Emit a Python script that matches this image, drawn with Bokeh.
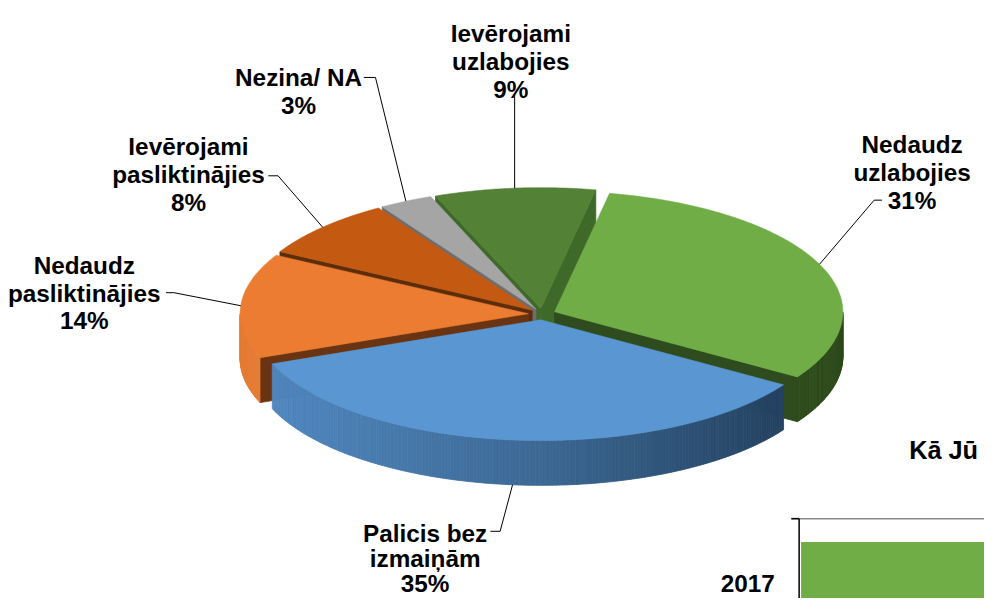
import numpy as np
from bokeh.plotting import figure
from bokeh.models import Range1d
from bokeh.core.properties import value
from bokeh.embed import file_html
from bokeh.resources import INLINE

# ---------------- data ----------------
categories = ["Nedaudz uzlabojies", "Palicis bez izmaiņām", "Nedaudz pasliktinājies",
              "Ievērojami pasliktinājies", "Nezina/ NA", "Ievērojami uzlabojies"]
values = [31, 35, 14, 8, 3, 9]
label_lines = [["Nedaudz", "uzlabojies"], ["Palicis bez", "izmaiņām"],
               ["Nedaudz", "pasliktinājies"], ["Ievērojami", "pasliktinājies"],
               ["Nezina/ NA"], ["Ievērojami", "uzlabojies"]]

# fragment of the neighbouring bar chart (cropped in the reference)
bar_title = "Kā Jū"
bar_years = ["2017"]
bar_first_segment = [45]

# ---------------- styles ----------------
top_colors = ["#70AD47", "#5A96D1", "#EB7C31", "#C45A12", "#A5A5A5", "#538135"]
face_colors = ["#2F4C1E", "#2A4A6C", "#6A3412", "#5C2C0B", "#6E6E6E", "#3F6929"]
wall_stops = [("#3A5E22", "#34551F", "#2D4A1B"),
              ("#5189C2", "#3C6893", "#1F3A57"),
              ("#E47B34", "#D06C28", "#B85E22"),
              ("#B04F10", "#A04810", "#8A3E0E"),
              ("#8C8C8C", "#7C7C7C", "#6C6C6C"),
              ("#46702C", "#3F6628", "#365A22")]

# layout (reference-pixel data space: x right, y down)
W, H = 984, 598
REF_H = 614.0
REF_W = W * REF_H / H
CX, CY = 556.0, 322.0
RX, RY = 296.0, 124.0
DEPTH = 46.0
EXPLODE = 14.0
START = 11.0
label_pos = [(936, 148), (436, 547), (86, 272), (193, 150), (306, 79), (524, 34)]
line_gaps = [28.5, 26.0, 28.5, 28.5, 28.5, 28.5]
leader_text = [[(905, 205), (897, 205)], [(503, 545), (513, 545)], [(170, 300), (178, 300)],
               [(275, 180), (285, 180)], [(373, 79), (385, 79)], [None]]
FONT = value("Liberation Sans")
FS = "%.1fpx" % (25 * H / REF_H)
FS_TITLE = "%.1fpx" % (26 * H / REF_H)


def hex2rgb(h):
    return np.array([int(h[i:i + 2], 16) for i in (1, 3, 5)], dtype=float)


def grad(stops, t):
    t = min(max(t, 0.0), 1.0)
    c0, c1, c2 = [hex2rgb(s) for s in stops]
    if t < 0.5:
        c = c0 + (c1 - c0) * (t / 0.5)
    else:
        c = c1 + (c2 - c1) * ((t - 0.5) / 0.5)
    return "#%02x%02x%02x" % tuple(int(round(v)) for v in c)


def edge(theta, off, dz=0.0):
    t = np.radians(theta)
    return (CX + off[0] + RX * np.sin(t), CY + off[1] - RY * np.cos(t) + dz)


total = float(sum(values))
bounds = [START]
for v in values:
    bounds.append(bounds[-1] + 360.0 * v / total)

slices = []
for i, v in enumerate(values):
    a0, a1 = bounds[i], bounds[i + 1]
    mid = np.radians((a0 + a1) / 2)
    off = (EXPLODE * np.sin(mid), -EXPLODE * RY / RX * np.cos(mid))
    slices.append(dict(i=i, a0=a0, a1=a1, mid=(a0 + a1) / 2, off=off))

order = sorted(slices, key=lambda s: s["off"][1])

p = figure(width=W, height=H, x_range=Range1d(0, REF_W), y_range=Range1d(REF_H, 0),
           output_backend="svg", toolbar_location=None, min_border=0)
p.axis.visible = False
p.grid.visible = False
p.outline_line_color = None
p.background_fill_color = "white"
p.border_fill_color = "white"

side_xs, side_ys, side_c = [], [], []
for s in order:
    i, a0, a1, off = s["i"], s["a0"], s["a1"], s["off"]
    apex = (CX + off[0], CY + off[1])
    # radial faces
    for a, is_start in ((a0, True), (a1, False)):
        sa = np.sin(np.radians(a))
        visible = (sa < 0) if is_start else (sa > 0)
        if visible:
            ex, ey = edge(a, off)
            side_xs.append([apex[0], ex, ex, apex[0]])
            side_ys.append([apex[1], ey, ey + DEPTH, apex[1] + DEPTH])
            side_c.append(face_colors[i])
    # outer wall (front half only)
    if a0 >= 360:
        w0, w1 = max(a0 - 360, 90.0), min(a1 - 360, 270.0)
    else:
        w0, w1 = max(a0, 90.0), min(a1, 270.0)
    if w1 > w0:
        ts = np.linspace(w0, w1, int((w1 - w0) * 1.5) + 2)
        for k in range(len(ts) - 1):
            x0, y0 = edge(ts[k], off)
            x1, y1 = edge(ts[k + 1], off)
            side_xs.append([x0, x1, x1, x0])
            side_ys.append([y0, y1, y1 + DEPTH, y0 + DEPTH])
            tt = ((x0 + x1) / 2 - (CX - RX)) / (2 * RX)
            side_c.append(grad(wall_stops[i], tt))

p.patches(xs=side_xs, ys=side_ys, fill_color=side_c, line_color=side_c, line_width=0.8)

top_xs, top_ys, top_c = [], [], []
for s in order:
    i, a0, a1, off = s["i"], s["a0"], s["a1"], s["off"]
    apex = (CX + off[0], CY + off[1])
    ts = np.linspace(a0, a1, int((a1 - a0) * 2) + 2)
    xs = [apex[0]] + [edge(t, off)[0] for t in ts]
    ys = [apex[1]] + [edge(t, off)[1] for t in ts]
    top_xs.append(xs)
    top_ys.append(ys)
    top_c.append(top_colors[i])
p.patches(xs=top_xs, ys=top_ys, fill_color=top_c, line_color=top_c, line_width=0.5)

# labels and leader lines
lx, ly, lt = [], [], []
lead_xs, lead_ys = [], []
for s in slices:
    i = s["i"]
    cx, by = label_pos[i]
    lines = label_lines[i] + ["%d%%" % values[i]]
    for k, t in enumerate(lines):
        lx.append(cx)
        ly.append(by + k * line_gaps[i])
        lt.append(t)
    if i == 1:
        ax, ay = edge(s["mid"], s["off"], DEPTH)
    else:
        ax, ay = edge(s["mid"], s["off"])
    pts = leader_text[i]
    if pts[0] is None:
        xs = [ax, ax]
        ys = [label_pos[i][1] + 2 * line_gaps[i] + 6, ay]
    else:
        xs = [pts[0][0], pts[1][0], ax]
        ys = [pts[0][1], pts[1][1], ay]
    lead_xs.append(xs)
    lead_ys.append(ys)

p.multi_line(xs=lead_xs, ys=lead_ys, line_color="black", line_width=1)
p.text(x=lx, y=ly, text=lt, text_align="center", text_baseline="alphabetic",
       text_font=FONT, text_font_style="bold", text_font_size=FS, text_color="black")

# ---- fragment of the neighbouring bar chart ----
AX_X, AX_TOP, PX_PER_PCT = 820.0, 532.0, 6.0
BAR_TOP, BAR_H = 556.0, 112.0
for j, yr in enumerate(bar_years):
    top = BAR_TOP + j * BAR_H * 1.4
    p.quad(left=AX_X + 2, right=AX_X + bar_first_segment[j] * PX_PER_PCT,
           top=top, bottom=top + BAR_H, fill_color="#70AD47", line_color=None)
    p.text(x=[AX_X - 25], y=[599], text=[yr], text_align="right",
           text_baseline="alphabetic", text_font=FONT, text_font_style="bold",
           text_font_size=FS, text_color="black")
p.segment(x0=[AX_X - 8], y0=[AX_TOP], x1=[1100], y1=[AX_TOP], line_color="#8A8A8A", line_width=1.5)
p.segment(x0=[AX_X - 8], y0=[AX_TOP], x1=[AX_X], y1=[AX_TOP], line_color="black", line_width=1.5)
p.segment(x0=[AX_X], y0=[AX_TOP], x1=[AX_X], y1=[700], line_color="black", line_width=1.5)
p.text(x=[933], y=[462], text=[bar_title], text_align="left", text_baseline="alphabetic",
       text_font=FONT, text_font_style="bold", text_font_size=FS_TITLE, text_color="black")

open("out.html", "w").write(file_html(p, INLINE))
